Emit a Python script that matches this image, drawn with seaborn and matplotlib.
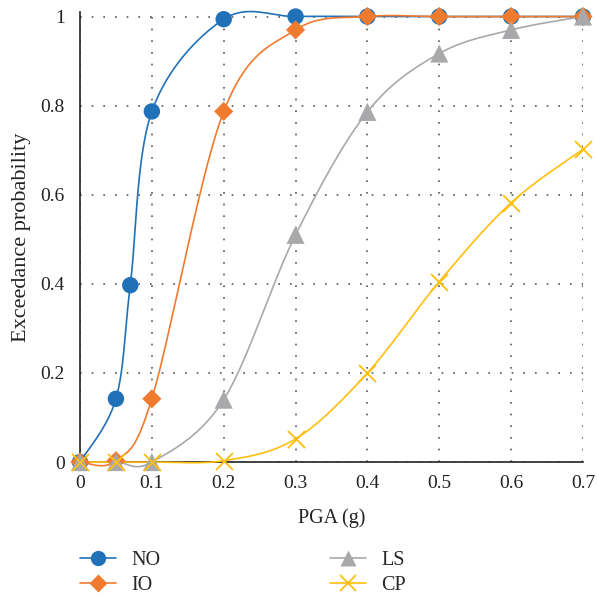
import numpy as np
import pandas as pd
import seaborn as sns
import matplotlib.pyplot as plt
from matplotlib.lines import Line2D

sns.set_theme(style="white")
plt.rcParams['font.family'] = ['Liberation Serif', 'DejaVu Serif']

# data
pga_no = [0, 0.05, 0.07, 0.1, 0.2, 0.3, 0.4, 0.5, 0.6, 0.7]
prob_no = [0, 0.142, 0.397, 0.787, 0.994, 1, 1, 1, 1, 1]
pga = [0, 0.05, 0.1, 0.2, 0.3, 0.4, 0.5, 0.6, 0.7]
prob_io = [0, 0.003, 0.142, 0.787, 0.970, 1, 1, 1, 1]
prob_ls = [0, 0, 0, 0.140, 0.510, 0.786, 0.917, 0.970, 1]
prob_cp = [0, 0, 0, 0.003, 0.052, 0.200, 0.405, 0.582, 0.702]

series = [
    ("NO", pga_no, prob_no, "#2171b8", "o", 140),
    ("IO", pga, prob_io, "#f07b2f", "D", 95),
    ("LS", pga, prob_ls, "#a9a9ab", "^", 170),
    ("CP", pga, prob_cp, "#ffbf0f", "x", 150),
]


def smooth(x, y, n=40):
    """Excel-like smoothed line (cubic Bezier through the points)"""
    p = np.column_stack([x, y]).astype(float)
    p = np.vstack([p[0], p, p[-1]])
    out = []
    for i in range(1, len(p) - 2):
        p0, p1, p2, p3 = p[i - 1], p[i], p[i + 1], p[i + 2]
        c1 = p1 + (p2 - p0) / 6
        c2 = p2 - (p3 - p1) / 6
        t = np.linspace(0, 1, n)[:, None]
        seg = ((1 - t) ** 3) * p1 + 3 * ((1 - t) ** 2) * t * c1 + 3 * (1 - t) * t ** 2 * c2 + t ** 3 * p2
        out.append(seg)
    out = np.vstack(out)
    return out[:, 0], out[:, 1]


fig = plt.figure(figsize=(5.97, 6.04), dpi=100)
ax = fig.add_axes([0.134, 0.235, 0.8425, 0.745])

for name, xs, ys, color, marker, size in series:
    sx, sy = smooth(xs, ys)
    ax.plot(sx, sy, color=color, lw=1.2, clip_on=False, zorder=3)
for name, xs, ys, color, marker, size in series:
    df = pd.DataFrame({"PGA": xs, "P": ys})
    if marker == "x":
        sns.scatterplot(data=df, x="PGA", y="P", ax=ax, marker="x", s=size, color=color,
                        linewidth=1.3, clip_on=False, zorder=4, legend=False)
    else:
        sns.scatterplot(data=df, x="PGA", y="P", ax=ax, marker=marker, s=size, color=color,
                        edgecolor="none", clip_on=False, zorder=4, legend=False)

ax.set_xlim(0, 0.7)
ax.set_ylim(0, 1.01)
ax.set_xticks([0, 0.1, 0.2, 0.3, 0.4, 0.5, 0.6, 0.7])
ax.set_xticklabels(["0", "0.1", "0.2", "0.3", "0.4", "0.5", "0.6", "0.7"])
ax.set_yticks([0, 0.2, 0.4, 0.6, 0.8, 1])
ax.set_yticklabels(["0", "0.2", "0.4", "0.6", "0.8", "1"])
ax.tick_params(axis="both", length=0, labelsize=14, colors="#222222")
ax.tick_params(axis="x", pad=9)
ax.tick_params(axis="y", pad=11)
ax.grid(True, linestyle=(0, (1, 6)), color="#555555", lw=1.2)
ax.set_axisbelow(True)
for s in ["top", "right"]:
    ax.spines[s].set_visible(False)
for s in ["left", "bottom"]:
    ax.spines[s].set_color("#222222")
    ax.spines[s].set_linewidth(1.2)

ax.set_xlabel("PGA (g)", fontsize=14.5, color="#222222", labelpad=12)
ax.set_ylabel("Exceedance probability", fontsize=16, color="#222222", labelpad=7)

handles = []
for name, xs, ys, color, marker, size in series:
    if marker == "x":
        h = Line2D([], [], color=color, lw=1.2, marker="x", markersize=11, markeredgewidth=1.3)
    else:
        h = Line2D([], [], color=color, lw=1.2, marker=marker,
                   markersize={"o": 11, "D": 9, "^": 12}[marker], markeredgecolor="none")
    handles.append(h)
labels = [s[0] for s in series]
# column 1 = NO, IO and column 2 = LS, CP
fig.legend(handles, labels, loc="upper left", bbox_to_anchor=(0.134, 0.088), ncol=2,
           frameon=False, fontsize=14.5, handlelength=1.8, handletextpad=0.75,
           columnspacing=8.4, labelspacing=0.3, borderpad=0, borderaxespad=0)

fig.savefig("out.png", dpi=100)
